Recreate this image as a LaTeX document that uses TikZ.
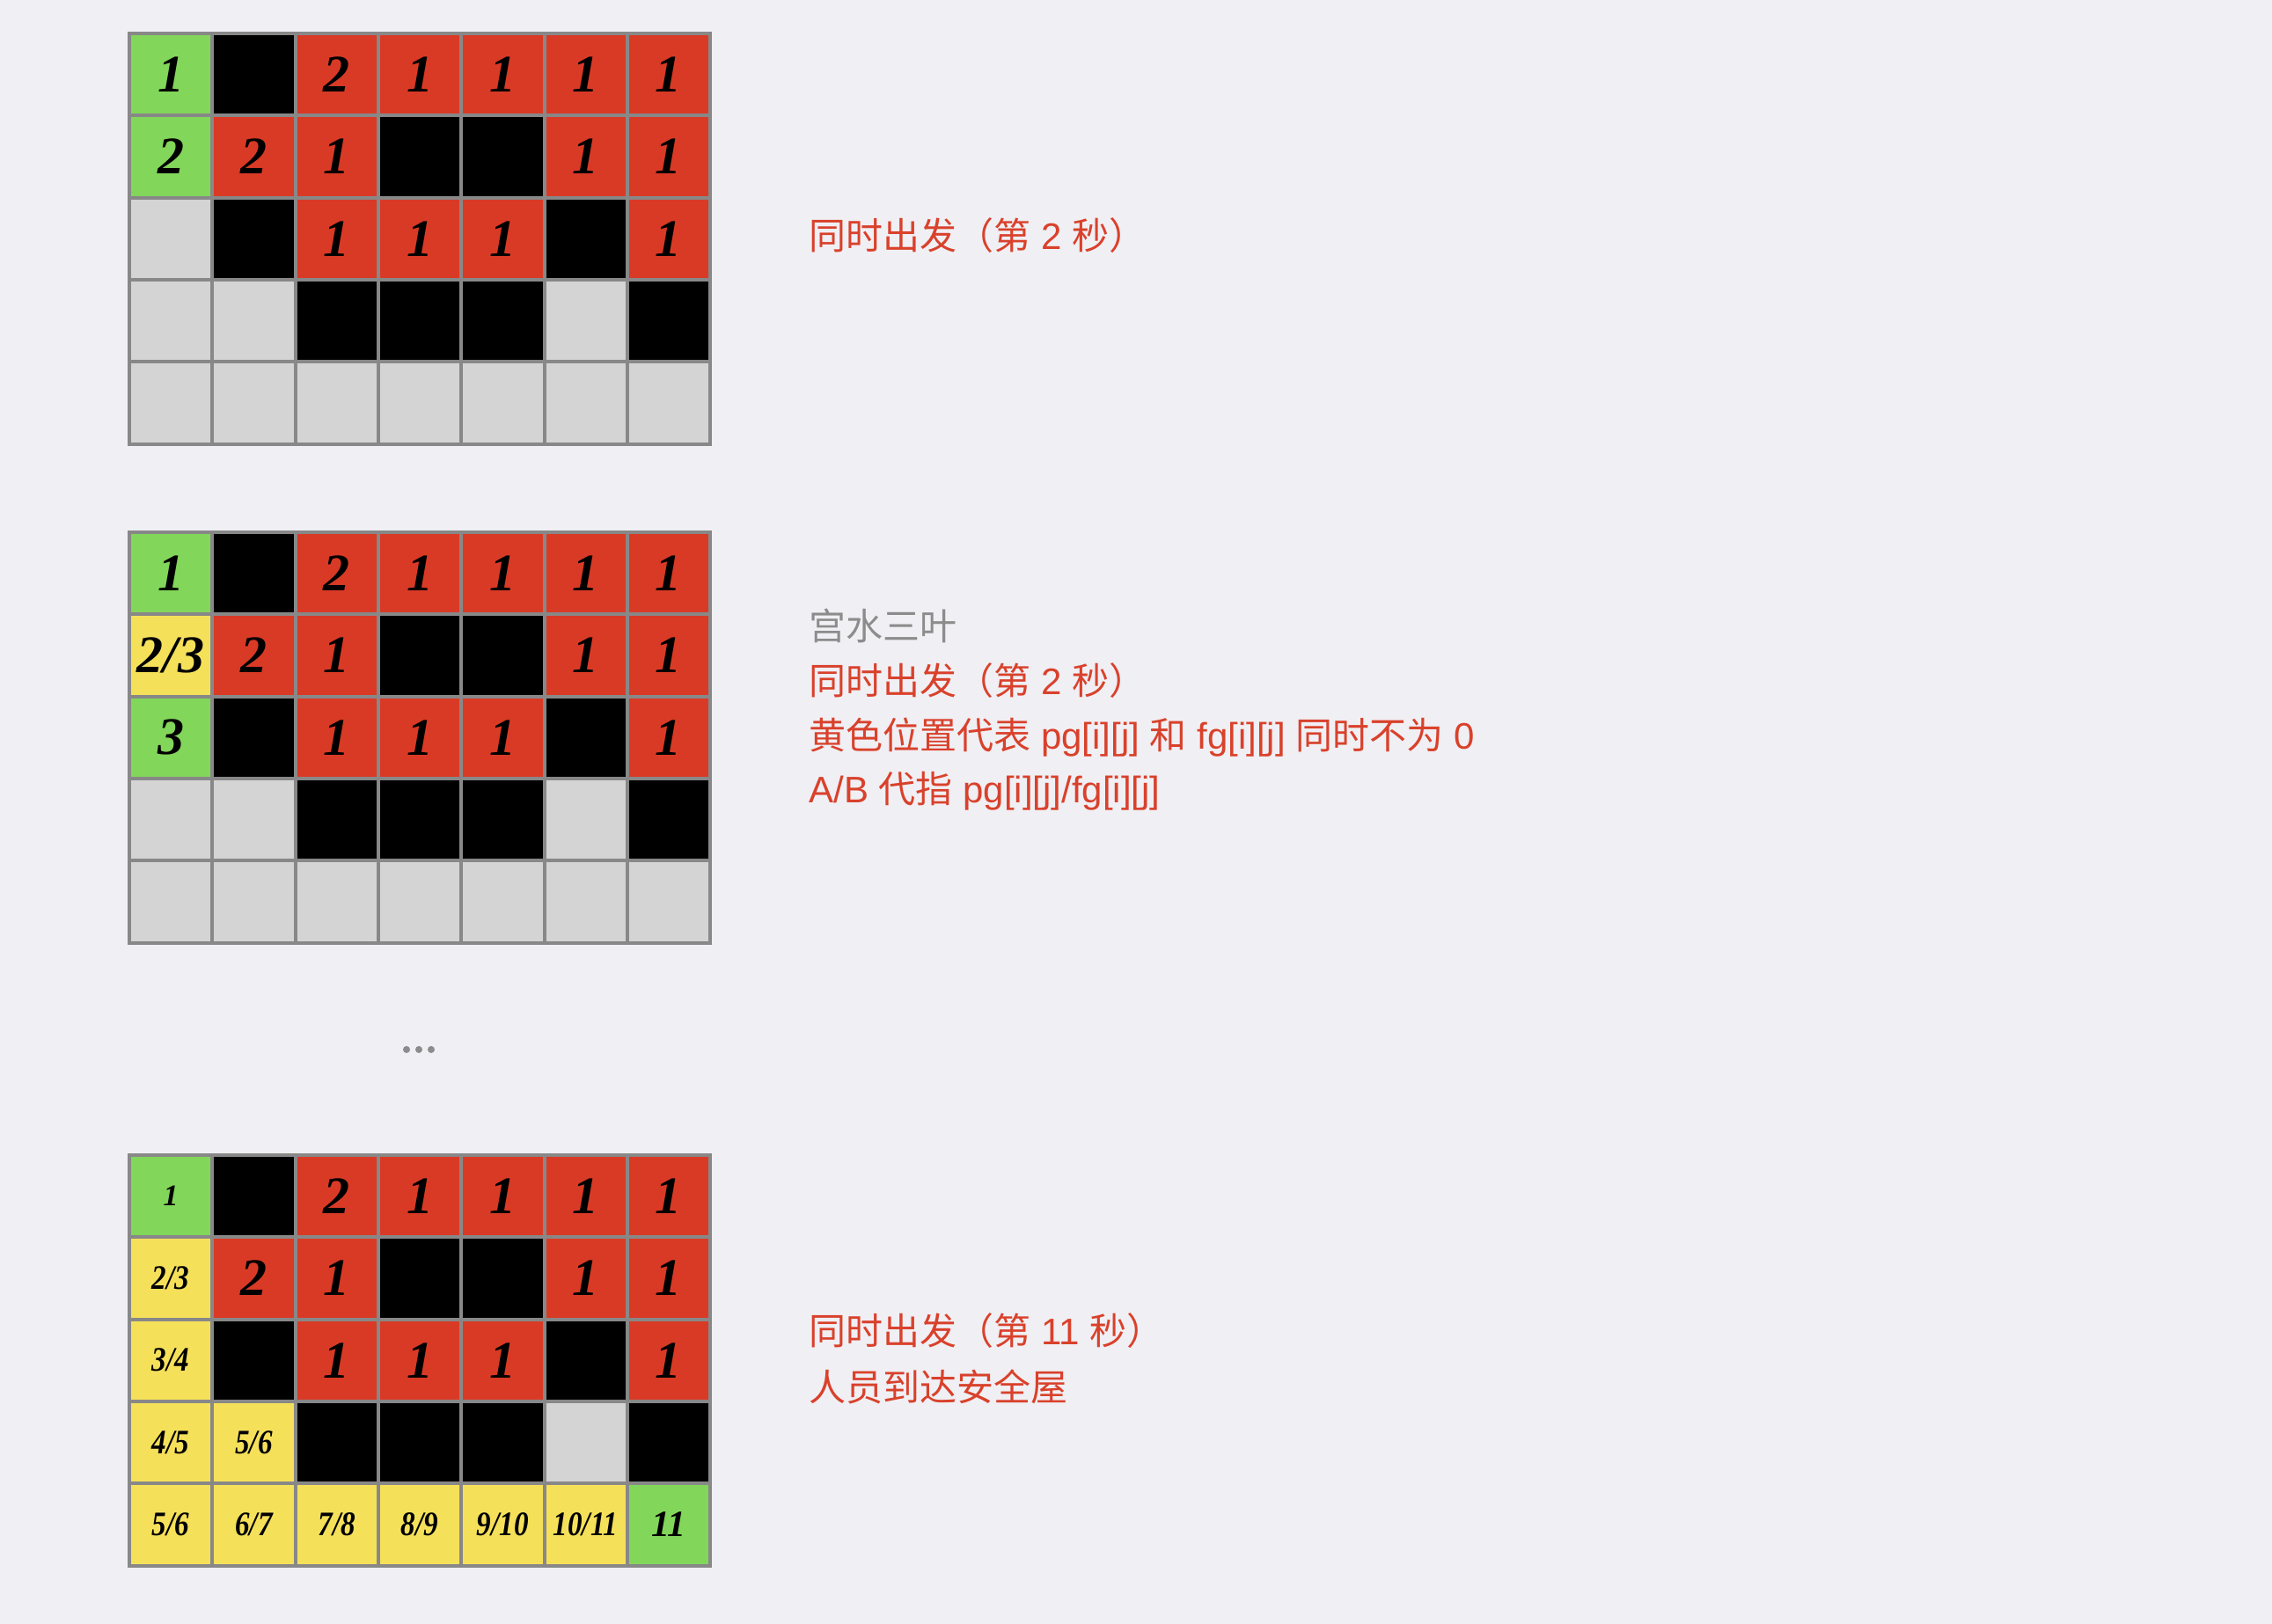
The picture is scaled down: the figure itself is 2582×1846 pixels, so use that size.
\documentclass[tikz,border=0pt]{standalone}
\usepackage{fontspec}
\newfontfamily\cjk{Noto Sans CJK SC}
\newfontfamily\lat{Liberation Sans}
\newfontfamily\numfont{Liberation Serif}
\definecolor{bgc}{HTML}{F0EFF4}
\definecolor{cG}{HTML}{82D65A}
\definecolor{cR}{HTML}{D93A26}
\definecolor{cB}{HTML}{000000}
\definecolor{cL}{HTML}{D4D4D4}
\definecolor{cY}{HTML}{F5E05A}
\definecolor{gridc}{HTML}{888888}
\definecolor{txtred}{HTML}{D9412B}
\definecolor{txtgray}{HTML}{8C8C8C}
\newcommand\fmtb[1]{\fontsize{30}{30}\selectfont #1}
\newcommand\fmts[1]{\fontsize{19.5}{19.5}\selectfont\scalebox{0.85}[1]{#1}}
\newcommand\fmtm[1]{\fontsize{21}{21}\selectfont #1}
\newcommand\fmtt[1]{\fontsize{17}{17}\selectfont #1}
\newcommand\fmtn[1]{}
\newcommand\zh[1]{{\cjk #1}}
\tikzset{
  cell/.style={draw=gridc, line width=2pt, minimum width=47.15pt, minimum height=46.65pt,
    inner sep=0pt, anchor=center, text=black, font=\numfont\bfseries\itshape},
  note/.style={anchor=west, text=txtred, inner sep=0pt, font=\lat\fontsize{21}{21}\selectfont},
  graynote/.style={note, text=txtgray},
  dotnode/.style={circle, fill=txtgray, minimum size=4pt, inner sep=0pt, draw=none}
}
% #1 grid name, #2 top y, #3 row index, #4 row spec
\newcommand\gridrow[4]{%
  \foreach \cc/\tt/\ss [count=\ki from 0] in {#4} {%
    \node[cell, fill=c\cc] (#1-#3-\ki) at ({147+94.3*(\ki+0.5)}, {#2+93.3*(#3+0.5)}) {\csname fmt\ss\endcsname{\tt}};%
  }%
}
\begin{document}
\begin{tikzpicture}[x=0.5pt, y=-0.5pt]
\useasboundingbox (0,0) rectangle (2582,1846);
\fill[bgc] (0,0) rectangle (2582,1846);

\gridrow{ga}{38}{0}{G/1/b,B/{}/n,R/2/b,R/1/b,R/1/b,R/1/b,R/1/b}
\gridrow{ga}{38}{1}{G/2/b,R/2/b,R/1/b,B/{}/n,B/{}/n,R/1/b,R/1/b}
\gridrow{ga}{38}{2}{L/{}/n,B/{}/n,R/1/b,R/1/b,R/1/b,B/{}/n,R/1/b}
\gridrow{ga}{38}{3}{L/{}/n,L/{}/n,B/{}/n,B/{}/n,B/{}/n,L/{}/n,B/{}/n}
\gridrow{ga}{38}{4}{L/{}/n,L/{}/n,L/{}/n,L/{}/n,L/{}/n,L/{}/n,L/{}/n}

\gridrow{gb}{605}{0}{G/1/b,B/{}/n,R/2/b,R/1/b,R/1/b,R/1/b,R/1/b}
\gridrow{gb}{605}{1}{Y/{2/3}/b,R/2/b,R/1/b,B/{}/n,B/{}/n,R/1/b,R/1/b}
\gridrow{gb}{605}{2}{G/3/b,B/{}/n,R/1/b,R/1/b,R/1/b,B/{}/n,R/1/b}
\gridrow{gb}{605}{3}{L/{}/n,L/{}/n,B/{}/n,B/{}/n,B/{}/n,L/{}/n,B/{}/n}
\gridrow{gb}{605}{4}{L/{}/n,L/{}/n,L/{}/n,L/{}/n,L/{}/n,L/{}/n,L/{}/n}

\gridrow{gc}{1313}{0}{G/1/t,B/{}/n,R/2/b,R/1/b,R/1/b,R/1/b,R/1/b}
\gridrow{gc}{1313}{1}{Y/{2/3}/s,R/2/b,R/1/b,B/{}/n,B/{}/n,R/1/b,R/1/b}
\gridrow{gc}{1313}{2}{Y/{3/4}/s,B/{}/n,R/1/b,R/1/b,R/1/b,B/{}/n,R/1/b}
\gridrow{gc}{1313}{3}{Y/{4/5}/s,Y/{5/6}/s,B/{}/n,B/{}/n,B/{}/n,L/{}/n,B/{}/n}
\gridrow{gc}{1313}{4}{Y/{5/6}/s,Y/{6/7}/s,Y/{7/8}/s,Y/{8/9}/s,Y/{9/10}/s,Y/{10/11}/s,G/11/m}

\node[note] (ta) at (919,268) {\zh{同时出发（第} 2 \zh{秒）}};

\node[graynote] (tb0) at (919,711) {\zh{宫水三叶}};
\node[note] (tb1) at (919,774) {\zh{同时出发（第} 2 \zh{秒）}};
\node[note] (tb2) at (919,838) {\zh{黄色位置代表} pg[i][j] \zh{和} fg[i][j] \zh{同时不为} 0};
\node[note] (tb3) at (919,899) {A/B \zh{代指} pg[i][j]/fg[i][j]};

\node[note] (tc1) at (919,1513) {\zh{同时出发（第} 11 \zh{秒）}};
\node[note] (tc2) at (919,1576) {\zh{人员到达安全屋}};

\node[dotnode] (d1) at (462,1193) {};
\node[dotnode] (d2) at (476,1193) {};
\node[dotnode] (d3) at (490,1193) {};
\end{tikzpicture}
\end{document}
